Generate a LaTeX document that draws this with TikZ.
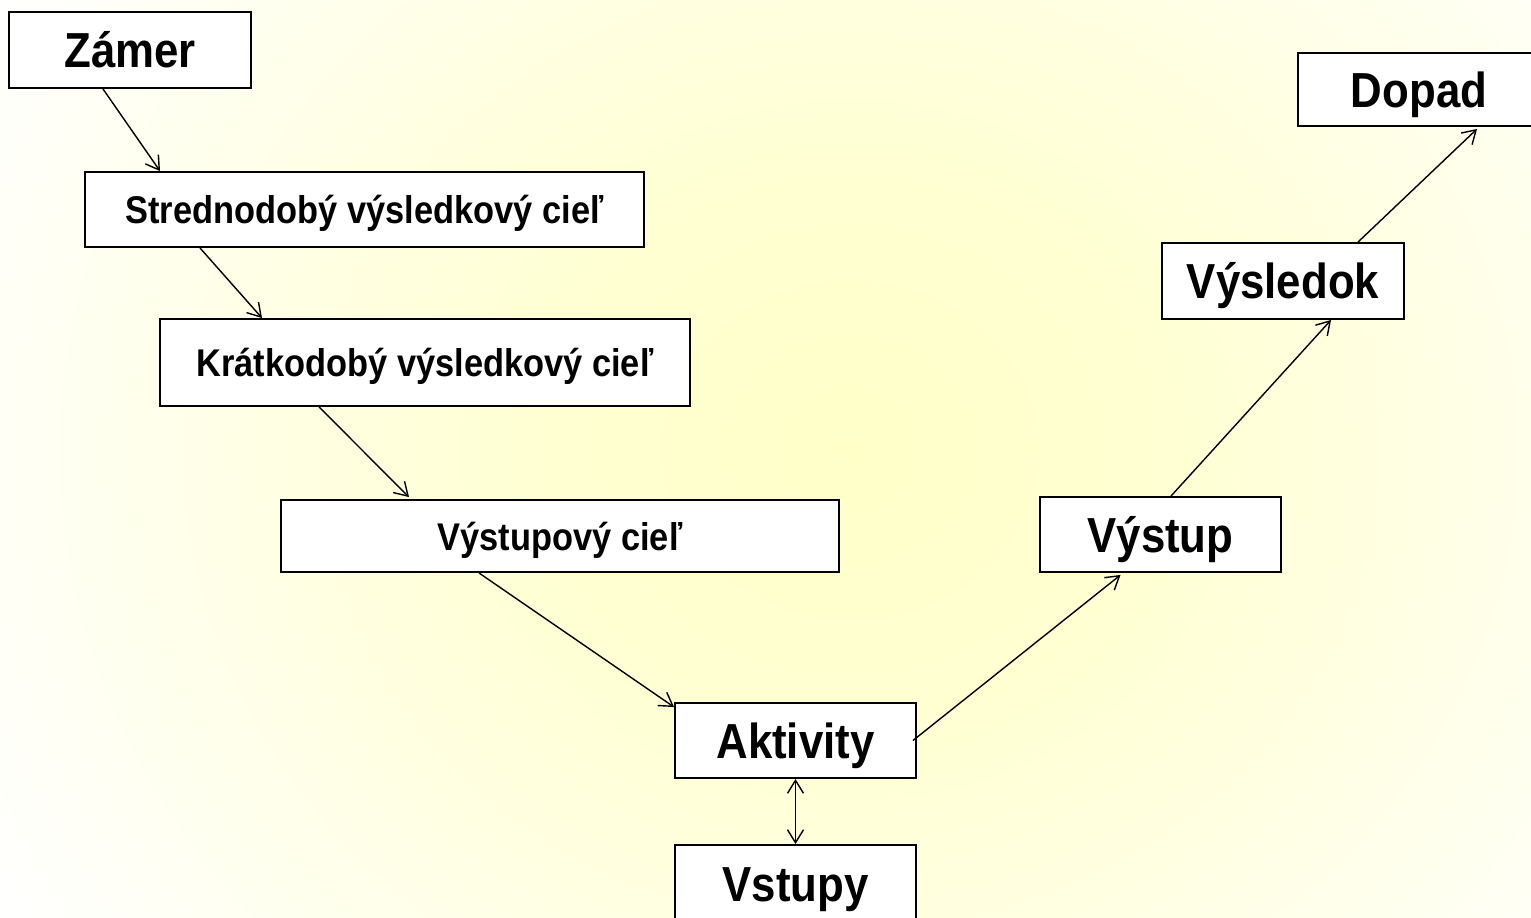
\documentclass[tikz,border=0pt]{standalone}
\usepackage{fontspec}
\newfontfamily\boxfont{Liberation Sans Bold}[FakeStretch=0.89]
\usetikzlibrary{arrows.meta,calc}
\definecolor{glowyellow}{RGB}{255,255,200}
\pgfdeclareradialshading{glow}{\pgfpoint{0bp}{0bp}}{color(0bp)=(glowyellow); color(8bp)=(glowyellow!80!white); color(25bp)=(white); color(50bp)=(white)}

\begin{document}
\begin{tikzpicture}[x=0.02cm, y=-0.02cm,
  box/.style={draw, line width=1.1pt, fill=white, inner sep=0pt},
  bigbox/.style={box, font=\boxfont\fontsize{28}{30}\selectfont, text height=20pt, text depth=0pt},
  smallbox/.style={box, font=\boxfont\fontsize{22}{24}\selectfont, text height=16pt, text depth=0pt},
  link/.style={line width=0.8pt, -{Straight Barb[length=0.26cm, width=0.32cm]}},
  both/.style={line width=0.8pt, {Straight Barb[length=0.26cm, width=0.32cm]}-{Straight Barb[length=0.26cm, width=0.32cm]}}]
% Page frame and background glow
\useasboundingbox (0,0) rectangle (1531,917);
\clip (0,0) rectangle (1531,917);
\fill[white] (0,0) rectangle (1531,917);
\shade[shading=glow] (-150,-450) rectangle (1850,1350);

% Left branch - goals, top to bottom
\node[bigbox, minimum width=4.84cm, minimum height=1.52cm] (zamer) at (130,50) {Zámer};
\node[smallbox, minimum width=11.18cm, minimum height=1.50cm] (stred) at (364.5,209.5) {Strednodobý výsledkový cieľ};
\node[smallbox, minimum width=10.60cm, minimum height=1.74cm] (kratk) at (425,362.5) {Krátkodobý výsledkový cieľ};
\node[smallbox, minimum width=11.16cm, minimum height=1.44cm] (vycie) at (560,536) {Výstupový cieľ};

% Bottom - activities and inputs
\node[bigbox, minimum width=4.82cm, minimum height=1.50cm] (aktiv) at (795.5,740.5) {Aktivity};
\node[bigbox, minimum width=4.82cm, minimum height=1.56cm] (vstup) at (795.5,884) {Vstupy};

% Right branch - results, bottom to top
\node[bigbox, minimum width=4.82cm, minimum height=1.50cm] (vystp) at (1160.5,534.5) {Výstup};
\node[bigbox, minimum width=4.84cm, minimum height=1.52cm] (vysle) at (1283,281) {Výsledok};
\node[bigbox, minimum width=4.84cm, minimum height=1.46cm] (dopad) at (1419,89.5) {Dopad};

% Arrows down the left side
\draw[link] ($(zamer.south)+(-27,0)$) -- ($(stred.north)+(-204.5,0)$);
\draw[link] ($(stred.south)+(-164.5,0)$) -- ($(kratk.north)+(-163,0)$);
\draw[link] ($(kratk.south)+(-106,0)$) -- ($(vycie.north)+(-151,-2)$);
\draw[link] ($(vycie.south)+(-81,0)$) -- ($(aktiv.north west)+(0,5)$);

% Inputs and activities
\draw[both] (aktiv.south) -- (vstup.north);

% Arrows up the right side
\draw[link] ($(aktiv.east)+(-4,0)$) -- ($(vystp.south)+(-40,2)$);
\draw[link] ($(vystp.north)+(10.5,0)$) -- ($(vysle.south)+(48,0)$);
\draw[link] ($(vysle.north)+(75,0)$) -- ($(dopad.south)+(58,2)$);
\end{tikzpicture}
\end{document}
